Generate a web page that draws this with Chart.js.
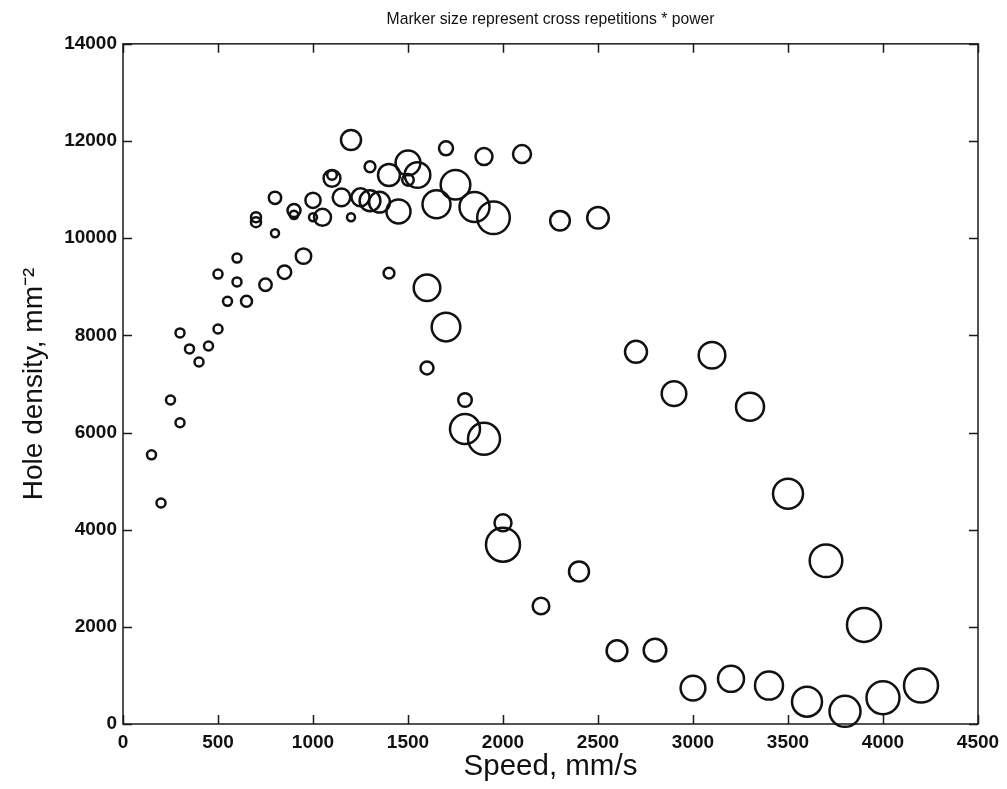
<!DOCTYPE html>
<html><head><meta charset="utf-8">
<script src="https://cdn.jsdelivr.net/npm/chart.js@4.4.1/dist/chart.umd.min.js"></script>
<style>html,body{margin:0;padding:0;background:#fff}</style>
</head><body>
<canvas id="c" width="1007" height="789"></canvas>
<script>
const chartTitle = 'Marker size represent cross repetitions * power';
const xTitle = 'Speed, mm/s';
const yTitle = 'Hole density, mm\u207B\u00B2';
const xTicks = [0, 500, 1000, 1500, 2000, 2500, 3000, 3500, 4000, 4500];
const yTicks = [0, 2000, 4000, 6000, 8000, 10000, 12000, 14000];

const speeds = [150, 200, 250, 300, 300, 350, 400, 450, 500, 500, 550, 600, 600, 650, 700, 700, 750, 800, 800, 850,
  900, 900, 950, 1000, 1000, 1050, 1100, 1100, 1150, 1200, 1200, 1250, 1300, 1300, 1350, 1400, 1400, 1450, 1500, 1500,
  1550, 1600, 1600, 1650, 1700, 1700, 1750, 1800, 1800, 1850, 1900, 1900, 1950, 2000, 2000, 2100, 2200, 2300, 2400, 2500,
  2600, 2700, 2800, 2900, 3000, 3100, 3200, 3300, 3400, 3500, 3600, 3700, 3800, 3900, 4000, 4200];
const densities = [5540, 4550, 6670, 6200, 8050, 7720, 7450, 7780, 9260, 8130, 8700, 9590, 9100, 8700, 10330, 10430, 9040, 10830, 10100, 9300,
  10570, 10480, 9630, 10780, 10430, 10430, 11230, 11300, 10840, 12020, 10430, 10840, 11470, 10770, 10740, 11300, 9280, 10550, 11550, 11200,
  11300, 8980, 7330, 10700, 11850, 8170, 11100, 6670, 6070, 10640, 11680, 5870, 10420, 4140, 3690, 11730, 2430, 10360, 3140, 10420,
  1510, 7660, 1520, 6800, 740, 7590, 930, 6530, 790, 4740, 460, 3360, 260, 2040, 540, 790];
const radii = [4.5, 4.5, 4.5, 4.5, 4.5, 4.5, 4.5, 4.5, 4.5, 4.5, 4.5, 4.5, 4.5, 5.5, 5, 5, 6.2, 6.2, 4, 6.7,
  6.5, 4.2, 7.7, 7.6, 4, 8.5, 8.4, 4.8, 8.8, 10, 4, 9, 5.4, 10.4, 10.4, 11, 5.4, 12, 12.4, 5.8,
  12.8, 13.3, 6.5, 14, 7, 14.3, 14.8, 6.8, 15, 15, 8.5, 16, 16.3, 8.5, 17, 9, 8.3, 9.8, 10, 10.8,
  10.4, 11, 11.3, 12.3, 12.4, 13.3, 13, 14, 14, 15, 15, 16.3, 15.5, 17, 16.5, 17];

const points = speeds.map((s, i) => ({x: s, y: densities[i], r: radii[i]}));
const FONT = "'Liberation Sans', Arial, Helvetica, sans-serif";

const framePlugin = {
  id: 'frame',
  beforeDatasetsDraw(chart) {
    const {ctx, chartArea: a, scales: {x, y}} = chart;
    ctx.save();
    ctx.strokeStyle = '#1a1a1a';
    ctx.lineWidth = 1.5;
    ctx.strokeRect(a.left, a.top, a.right - a.left, a.bottom - a.top);
    const L = 9;
    ctx.beginPath();
    x.ticks.forEach(t => {
      const px = Math.round(x.getPixelForValue(t.value)) + 0.5;
      ctx.moveTo(px, a.bottom); ctx.lineTo(px, a.bottom - L);
      ctx.moveTo(px, a.top); ctx.lineTo(px, a.top + L);
    });
    y.ticks.forEach(t => {
      const py = Math.round(y.getPixelForValue(t.value)) + 0.5;
      ctx.moveTo(a.left, py); ctx.lineTo(a.left + L, py);
      ctx.moveTo(a.right, py); ctx.lineTo(a.right - L, py);
    });
    ctx.stroke();
    ctx.restore();
  }
};

new Chart(document.getElementById('c'), {
  type: 'bubble',
  data: {datasets: [{
    data: points,
    backgroundColor: 'rgba(0,0,0,0)',
    borderColor: '#111',
    borderWidth: 2.5,
    hoverBorderWidth: 2.5,
    clip: false
  }]},
  options: {
    responsive: false,
    animation: false,
    events: [],
    layout: {padding: {left: 0, right: 29, top: 0, bottom: 0}},
    plugins: {
      legend: {display: false},
      tooltip: {enabled: false},
      title: {
        display: true, text: chartTitle, fullSize: false,
        color: '#111', font: {family: FONT, size: 15.7, weight: 'normal'},
        padding: {top: 10, bottom: 15}
      }
    },
    scales: {
      x: {
        type: 'linear', min: 0, max: 4500,
        afterBuildTicks: s => { s.ticks = xTicks.map(v => ({value: v})); },
        afterFit: s => { s.height = 65; },
        grid: {display: false, drawTicks: false},
        border: {display: false},
        ticks: {color: '#111', font: {family: FONT, size: 19, weight: 'bold'}, padding: 7, maxRotation: 0, autoSkip: false,
          callback: v => String(v)},
        title: {display: true, text: xTitle, color: '#111', font: {family: FONT, size: 29.5, weight: 'normal'}, padding: {top: 0, bottom: 4}}
      },
      y: {
        type: 'linear', min: 0, max: 14000,
        afterBuildTicks: s => { s.ticks = yTicks.map(v => ({value: v})); },
        afterFit: s => { s.width = 123; },
        grid: {display: false, drawTicks: false},
        border: {display: false},
        ticks: {color: '#111', font: {family: FONT, size: 19, weight: 'bold'}, padding: 6, autoSkip: false,
          callback: v => String(v)},
        title: {display: true, text: yTitle, color: '#111', font: {family: FONT, size: 28, weight: 'normal'}, padding: {top: 17, bottom: 0}}
      }
    }
  },
  plugins: [framePlugin]
});
</script>
</body></html>
